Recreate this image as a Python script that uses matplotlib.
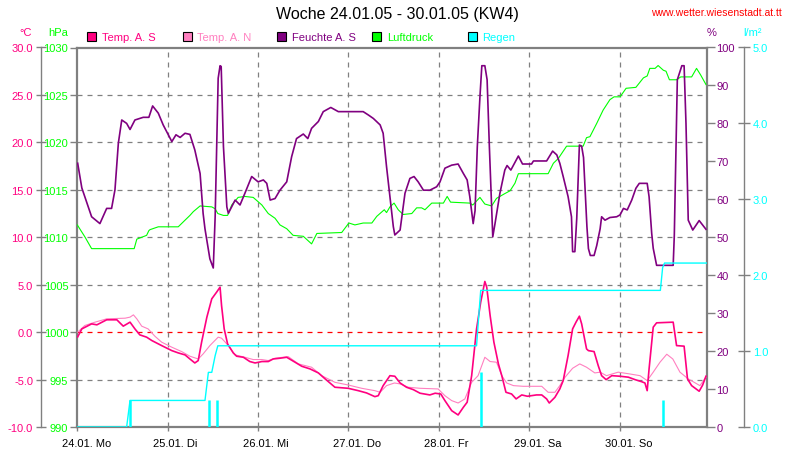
import matplotlib
matplotlib.use('Agg')
import matplotlib.pyplot as plt
from matplotlib.patches import Rectangle
from matplotlib.transforms import ScaledTranslation

plt.rcParams['font.family'] = ['Liberation Sans', 'DejaVu Sans']
plt.rcParams['font.size'] = 8

# ---------------- data (hours since 24.01.05 00:00) ----------------
title = "Woche 24.01.05 - 30.01.05 (KW4)"
url = "www.wetter.wiesenstadt.at.tt"
day_labels = ["24.01. Mo", "25.01. Di", "26.01. Mi", "27.01. Do", "28.01. Fr", "29.01. Sa", "30.01. So"]
series_names = ["Temp. A. S", "Temp. A. N", "Feuchte A. S", "Luftdruck", "Regen"]

temp_s = [(0.1,-0.5),(1.2,0.34),(3.8,0.87),(5.2,0.77),(7.8,1.3),(10.5,1.3),(11.3,0.98),(12.2,0.63),
          (14.0,1.05),(15.3,0.34),(16.6,-0.29),(18.4,-0.53),(19.8,-0.89),(22.4,-1.42),(25.1,-1.95),
          (26.8,-2.19),(28.6,-2.4),(29.9,-2.83),(31.2,-3.25),(32.1,-3.0),(33.0,-1.06),(34.4,1.58),
          (35.7,3.51),(37.0,4.22),(37.9,4.74),(38.3,2.8),(39.0,0.34),(39.9,-1.24),(41.4,-2.19),
          (42.3,-2.54),(44.1,-2.65),(45.8,-3.1),(47.2,-3.25),(49.0,-3.1),(50.7,-3.1),(52.0,-2.83),
          (53.8,-2.75),(55.6,-2.65),(57.8,-3.17),(59.6,-3.6),(61.8,-3.88),(64.0,-4.3),(65.8,-4.93),
          (68.4,-5.81),(71.9,-5.92),(74.6,-6.17),(76.8,-6.41),(79.0,-6.8),(79.9,-6.7),(81.2,-5.64),
          (83.0,-4.59),(84.3,-4.65),(85.7,-5.36),(87.4,-5.81),(89.2,-6.06),(91.0,-6.44),(93.6,-6.62),
          (95.0,-6.44),(96.5,-6.52),(97.6,-7.22),(99.4,-8.28),(101.1,-8.73),(102.5,-7.92),(103.5,-7.39),
          (104.7,-4.59),(106.0,0.34),(107.1,3.16),(108.2,5.34),(108.7,4.74),(109.6,1.75),(110.6,-1.06),
          (111.8,-3.35),(112.7,-4.59),(113.8,-6.34),(115.3,-6.52),(116.5,-7.04),(118.0,-6.62),
          (119.5,-6.76),(121.9,-6.62),(123.3,-6.62),(124.6,-7.04),(125.3,-7.47),(126.8,-6.87),
          (128.1,-5.99),(129.0,-5.11),(130.3,-2.47),(131.5,0.34),(132.4,1.05),(133.3,1.68),(133.9,0.87),
          (135.2,-1.77),(135.7,-1.95),(137.2,-2.05),(138.3,-3.53),(139.2,-4.59),(140.4,-5.01),
          (141.9,-4.59),(144.1,-4.65),(146.3,-4.75),(148.1,-5.01),(149.8,-5.22),(150.7,-5.36),
          (151.3,-6.17),(151.8,-3.88),(152.9,0.52),(153.8,0.98),(158.2,1.05),(159.1,-1.42),
          (161.1,-1.48),(162.0,-4.93),(163.1,-5.64),(165.1,-6.23),(166.0,-5.6),(166.9,-4.65)]

temp_n = [(0.1,0.0),(2.0,0.7),(4.7,1.05),(7.8,1.4),(12.7,1.47),(14.0,1.58),(14.9,1.82),(15.8,1.4),
          (17.1,0.63),(18.8,0.34),(20.6,-0.43),(22.4,-1.06),(25.1,-1.59),(27.7,-2.05),(29.9,-2.54),
          (32.1,-2.83),(33.4,-2.3),(35.2,-1.42),(37.4,-0.53),(38.3,-0.64),(39.7,-1.24),(41.9,-2.4),
          (44.5,-2.65),(46.7,-2.89),(49.0,-2.89),(50.7,-3.0),(52.5,-2.75),(56.0,-2.58),(58.7,-3.35),
          (62.2,-3.7),(64.9,-4.59),(68.4,-5.29),(71.9,-5.57),(75.5,-5.92),(79.0,-6.17),(80.4,-6.34),
          (82.1,-5.64),(84.2,-5.36),(85.7,-5.46),(87.9,-5.81),(91.0,-5.92),(95.8,-5.99),(97.6,-6.7),
          (99.4,-7.22),(101.1,-7.47),(102.9,-7.04),(104.7,-5.29),(106.4,-4.59),(108.2,-2.65),
          (109.6,-3.1),(111.3,-3.17),(112.7,-4.59),(114.0,-5.36),(115.8,-5.64),(118.4,-5.71),
          (123.3,-5.71),(125.0,-6.34),(126.8,-6.34),(128.1,-5.64),(129.5,-4.75),(131.5,-3.81),
          (133.4,-3.35),(135.2,-3.7),(137.4,-4.3),(138.8,-4.22),(140.5,-4.59),(143.6,-4.22),
          (146.7,-4.41),(149.4,-4.59),(151.3,-5.11),(152.9,-4.22),(154.7,-3.17),(156.5,-2.33),
          (158.1,-2.83),(160.0,-4.22),(162.2,-4.93),(165.3,-5.64),(166.9,-4.75)]

humidity = [(0.1,69.5),(1.2,63),(3.8,55.4),(6.0,53.6),(7.8,57.6),(9.1,57.6),(10.0,62.5),(10.9,74.8),
            (11.8,80.9),(13.1,80),(14.0,78.4),(15.3,80.9),(17.5,81.6),(19.0,81.6),(20.0,84.6),
            (21.5,82.7),(22.8,79.6),(25.1,75.2),(26.2,77),(27.3,76.3),(28.6,77.4),(29.9,77.1),
            (31.2,73),(32.6,66.8),(33.4,56.3),(33.9,52.2),(35.2,44.3),(36.1,41.9),(36.6,55.4),
            (37.4,91.9),(37.9,95.2),(38.2,95),(38.8,73.9),(39.7,58),(40.1,56.3),(41.9,59.8),
            (43.2,58.5),(44.5,61.6),(46.3,66),(48.0,64.6),(49.4,65.1),(50.3,64.2),(51.2,59.8),
            (52.5,60.2),(53.8,62.4),(55.6,64.6),(56.9,71.2),(58.2,76),(60.0,77.2),(61.2,76),
            (62.2,78.7),(64.0,80.5),(65.3,83.1),(67.3,84.2),(69.3,83.1),(75.9,83.1),(77.3,82.2),
            (78.6,81.3),(80.4,79.6),(81.2,77.4),(82.1,68.6),(83.0,60.7),(83.9,52.8),(84.3,50.6),
            (85.7,51.9),(87.0,61.6),(88.3,65.5),(89.4,66),(90.5,64.6),(91.9,62.4),(93.6,62.4),
            (95.4,63.3),(96.3,64.6),(97.6,68.2),(99.4,69),(101.1,69.3),(102.5,66.8),(103.5,65.1),
            (104.2,60.7),(105.1,53.6),(105.6,57),(106.2,73.9),(106.9,87),(107.4,95.2),(108.2,95.2),
            (108.8,91.5),(109.4,73.9),(110.0,58),(110.3,50.1),(110.9,53.6),(112.2,61.6),(113.5,67.7),
            (114.1,68.9),(115.1,67.7),(117.1,71.4),(118.2,69.3),(120.6,69.3),(121.1,70.1),
            (124.6,70.1),(126.2,72.7),(127.3,71.7),(128.1,69.5),(129.0,66),(130.3,60.7),(131.2,55.4),
            (131.5,46.2),(132.1,46.2),(132.6,55),(133.3,74.3),(133.9,74),(134.4,71),(135.3,52.8),
            (135.7,47),(136.2,45.2),(137.2,45.2),(137.9,47.8),(138.8,52.2),(139.2,55.4),(140.1,54.5),
            (141.4,55.2),(143.2,55.4),(144.1,55.9),(145.0,57.6),(146.0,57.2),(147.2,59.8),
            (148.3,62.9),(149.2,64.2),(151.3,64.2),(151.8,60.7),(152.5,51),(152.9,47.1),(153.8,42.6),
            (158.2,42.6),(158.5,50.5),(158.7,60.7),(159.3,91.5),(160.5,95.2),(161.1,95.2),(161.6,80),
            (162.2,54.5),(163.4,51.9),(165.1,54.4),(166.9,52.1)]

pressure = [(0.0,1011.3),(2.0,1010.05),(3.8,1008.8),(15.1,1008.8),(15.8,1009.8),(17.1,1010.0),
            (18.4,1010.2),(19.0,1010.7),(19.3,1010.8),(21.5,1011.1),(26.8,1011.1),(28.6,1011.8),
            (29.9,1012.3),(30.8,1012.7),(32.6,1013.3),(35.7,1013.2),(36.6,1013.0),(37.3,1012.5),
            (38.8,1012.3),(39.9,1012.3),(41.0,1013.4),(42.7,1014.2),(44.5,1014.3),(46.7,1014.2),
            (49.0,1013.4),(50.7,1012.5),(52.5,1012.0),(53.8,1011.3),(55.6,1010.9),(57.3,1010.2),
            (60.0,1010.1),(62.2,1009.3),(63.6,1010.4),(70.2,1010.5),(72.1,1011.5),(73.7,1011.3),
            (75.9,1011.5),(78.2,1011.5),(79.5,1012.2),(81.5,1012.9),(82.1,1012.6),(83.0,1013.2),
            (84.1,1013.6),(85.2,1012.9),(86.5,1012.4),(88.8,1012.5),(90.1,1013.1),(91.4,1013.1),
            (92.3,1012.9),(94.1,1013.6),(97.2,1013.6),(98.2,1014.3),(99.1,1013.7),(104.2,1013.6),
            (105.0,1013.4),(106.9,1014.2),(108.2,1013.5),(110.0,1013.3),(111.3,1014.1),(113.5,1014.6),
            (114.9,1014.9),(116.2,1015.7),(117.1,1016.7),(125.0,1016.7),(126.4,1017.8),(127.7,1018.3),
            (129.9,1019.6),(134.3,1019.6),(135.2,1020.5),(136.1,1020.6),(137.9,1022.0),(139.6,1023.4),
            (141.4,1024.5),(142.5,1024.8),(144.1,1024.8),(145.7,1025.7),(148.3,1025.8),(150.3,1026.8),
            (151.3,1027.0),(152.0,1027.8),(153.4,1027.8),(154.2,1028.1),(155.6,1027.6),(156.3,1027.5),
            (157.2,1026.6),(159.1,1026.6),(160.2,1026.9),(163.1,1026.9),(164.4,1027.8),(165.5,1027.1),
            (166.9,1026.1)]

rain_total = [(0.0,0.0),(13.1,0.0),(14.0,0.35),(33.9,0.35),(34.8,0.72),(35.7,0.72),(36.6,0.94),
              (37.3,1.07),(106.0,1.07),(106.4,1.34),(107.1,1.8),(154.8,1.8),(155.4,2.1),(155.9,2.16),
              (167.0,2.16)]
rain_hourly = [(13.9,0.35),(35.0,0.35),(37.0,0.35),(107.1,0.72),(155.6,0.36)]

# ---------------- styling ----------------
C_TS, C_TN, C_H, C_P, C_R = '#FF0080', '#FF80C0', '#800080', '#00FF00', '#00FFFF'
GRAY = '#808080'
W, H = 790, 460

def fx(x): return x / W
def fy(y): return 1 - y / H

fig = plt.figure(figsize=(7.9, 4.6), dpi=100)
L, R, B, T = fx(77.3), fx(706.7), fy(428), fy(48.5)
ax_p = fig.add_axes([L, B, R - L, T - B])
ax_t = ax_p.twinx()
ax_h = ax_p.twinx()
ax_r = ax_p.twinx()

XMAX = 167.1
for a in (ax_p, ax_t, ax_h, ax_r):
    a.set_xlim(0, XMAX)
    for s in a.spines.values():
        s.set_visible(False)
    a.patch.set_visible(False)

ax_p.set_ylim(990, 1030)
ax_t.set_ylim(-10, 30)
ax_h.set_ylim(0, 100)
ax_r.set_ylim(0, 5)

# frame
for side in ('left', 'right', 'top', 'bottom'):
    ax_p.spines[side].set_visible(True)
    ax_p.spines[side].set_color(GRAY)
    ax_p.spines[side].set_linewidth(1.6)

# grid
for v in range(995, 1030, 5):
    ax_p.axhline(v, color=('#FF0000' if v == 1000 else GRAY), lw=0.9, ls=(0, (4, 4)), zorder=0)
for d in range(1, 7):
    ax_p.axvline(24 * d, color=GRAY, lw=0.9, ls=(0, (4, 4)), zorder=0)

# pressure axis (left spine)
ax_p.set_yticks(range(990, 1031, 5))
ax_p.set_yticklabels([str(v) for v in range(990, 1031, 5)])
ax_p.tick_params(axis='y', which='both', left=True, right=False, direction='out', length=5,
                 width=1, color=GRAY, labelcolor=C_P, pad=1.5, labelsize=8)

# x axis
ax_p.set_xticks([24 * i for i in range(7)])
ax_p.set_xticklabels(day_labels)
ax_p.tick_params(axis='x', direction='out', length=3, width=1, color=GRAY, pad=5, labelsize=8)
off = ScaledTranslation(-15 / 100, 0, fig.dpi_scale_trans)
for lab in ax_p.get_xticklabels():
    lab.set_horizontalalignment('left')
    lab.set_transform(lab.get_transform() + off)

# temperature axis (offset left)
ax_t.yaxis.set_ticks_position('left')
ax_t.yaxis.set_label_position('left')
ax_t.spines['left'].set_visible(True)
ax_t.spines['left'].set_position(('axes', (40.7 - 77.3) / (706.7 - 77.3)))
ax_t.spines['left'].set_color(GRAY)
ax_t.spines['left'].set_linewidth(1.0)
ax_t.set_yticks(range(-10, 31, 5))
ax_t.set_yticklabels([f"{v:.1f}" for v in range(-10, 31, 5)])
ax_t.tick_params(axis='y', direction='inout', length=7, width=1, color=GRAY,
                 labelcolor=C_TS, pad=2, labelsize=8)

# humidity axis (right spine)
ax_h.set_yticks(range(0, 101, 10))
ax_h.set_yticklabels([str(v) for v in range(0, 101, 10)])
ax_h.tick_params(axis='y', direction='out', length=6, width=1, color=GRAY,
                 labelcolor=C_H, pad=1, labelsize=8)

# rain axis (offset right)
ax_r.spines['right'].set_visible(True)
ax_r.spines['right'].set_position(('axes', (744.3 - 77.3) / (706.7 - 77.3)))
ax_r.spines['right'].set_color(GRAY)
ax_r.spines['right'].set_linewidth(1.0)
ax_r.set_yticks([0, 1, 2, 3, 4, 5])
ax_r.set_yticklabels([f"{v:.1f}" for v in [0, 1, 2, 3, 4, 5]])
ax_r.tick_params(axis='y', direction='inout', length=8, width=1, color=GRAY,
                 labelcolor=C_R, pad=2, labelsize=8)

for a in (ax_t, ax_h, ax_r):
    a.tick_params(axis='x', bottom=False, labelbottom=False, top=False, labeltop=False)

def xy(pairs):
    return [p[0] for p in pairs], [p[1] for p in pairs]

# series
ax_p.plot(*xy(pressure), color=C_P, lw=0.8, zorder=3)
ax_t.plot(*xy(temp_n), color=C_TN, lw=0.8, zorder=3)
ax_t.plot(*xy(temp_s), color=C_TS, lw=1.2, zorder=4)
ax_h.plot(*xy(humidity), color=C_H, lw=1.2, zorder=3)
rx, rv = xy(rain_hourly)
ax_r.vlines(rx, 0, rv, color=C_R, lw=1.8, zorder=3)
ax_r.plot(*xy(rain_total), color=C_R, lw=1.0, zorder=3)

# texts
fig.text(fx(397.5), fy(15), title, ha='center', va='center', fontsize=11.5, color='black')
fig.text(fx(782), fy(13), url, ha='right', va='center', fontsize=7.5, color='#FF0000')
fig.text(fx(25.3), fy(32.5), "°C", ha='center', va='center', fontsize=8, color=C_TS)
fig.text(fx(58), fy(32.5), "hPa", ha='center', va='center', fontsize=8, color=C_P)
fig.text(fx(711.5), fy(32.5), "%", ha='center', va='center', fontsize=8, color=C_H)
fig.text(fx(753), fy(32.5), "l/m²", ha='center', va='center', fontsize=8, color=C_R)

leg_x = [87.3, 182.7, 277.3, 372.3, 467.7]
leg_c = [C_TS, C_TN, C_H, C_P, C_R]
for x0, name, c in zip(leg_x, series_names, leg_c):
    fig.add_artist(Rectangle((fx(x0), fy(42.3)), 9 / W, 9 / H, transform=fig.transFigure,
                             facecolor=c, edgecolor='black', lw=0.8))
    fig.text(fx(x0 + 14.4), fy(37.8), name, ha='left', va='center', fontsize=8, color=c)

fig.savefig('out.png', dpi=100)
